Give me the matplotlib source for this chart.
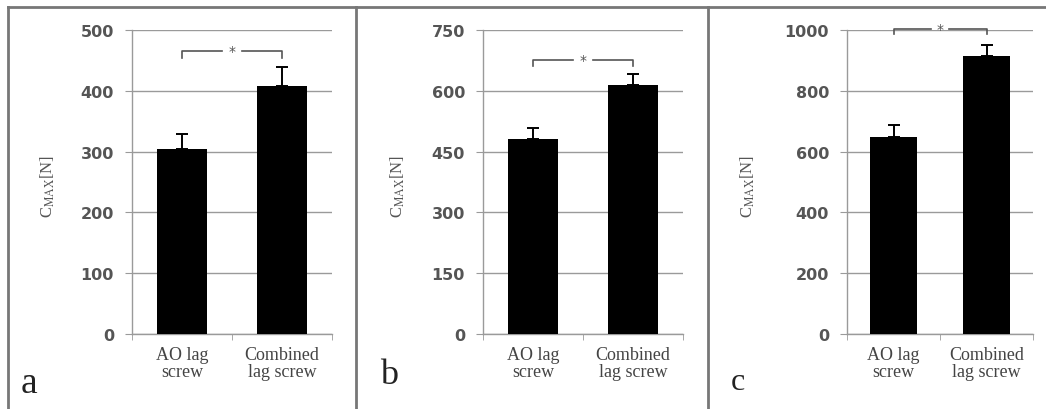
import matplotlib
matplotlib.use("Agg")
import matplotlib.pyplot as plt
from matplotlib.lines import Line2D

plt.rcParams["mathtext.fontset"] = "stix"

groups = ["AO lag\nscrew", "Combined\nlag screw"]
panel_letters = ["a", "b", "c"]

means_a = [305, 408]
err_a = [24, 31]
means_b = [481, 614]
err_b = [27, 27]
means_c = [648, 914]
err_c = [40, 37]

yticks_a = [0, 100, 200, 300, 400, 500]
yticks_b = [0, 150, 300, 450, 600, 750]
yticks_c = [0, 200, 400, 600, 800, 1000]

# bracket level and drop for the significance mark
sig_a = (466, 454)
sig_b = (676, 661)
sig_c = (1003, 987)

W, H = 1046, 410
fig = plt.figure(figsize=(W / 100, H / 100), dpi=100)

grid_col = "#9a9a9a"
tick_col = "#555555"
serif = ["Liberation Serif", "DejaVu Serif"]

# left px, width px, data, letter x, letter baseline, letter size
panels = [
    (132, 200, means_a, err_a, yticks_a, sig_a, 21, 393, 27),
    (483, 200, means_b, err_b, yticks_b, sig_b, 380, 384, 26),
    (847, 186, means_c, err_c, yticks_c, sig_c, 731, 390, 23),
]

for i, (left, width, means, errs, yt, sig, lx, ly, lsize) in enumerate(panels):
    ax = fig.add_axes([left / W, 1 - 335 / H, width / W, 304 / H])
    x = [0, 1]
    ax.bar(x, means, width=0.5, color="black", zorder=3)
    ax.errorbar(x, means, yerr=[[0, 0], errs], fmt="none", ecolor="black",
                elinewidth=1.4, capsize=4, capthick=1.4, zorder=4)
    ax.set_xlim(-0.5, 1.5)
    ax.set_ylim(0, yt[-1])
    ax.set_yticks(yt)
    ax.set_yticklabels([str(v) for v in yt], fontsize=11.5, color=tick_col,
                       fontweight="bold", family="DejaVu Sans")
    ax.yaxis.grid(True, color=grid_col, linewidth=1.0, zorder=0)
    ax.tick_params(axis="y", length=5, color=grid_col, pad=8)
    ax.set_xticks(x)
    ax.set_xticklabels(groups, fontsize=13, color="#444444", family=serif,
                       linespacing=0.95)
    ax.tick_params(axis="x", length=0, pad=9)
    ax.set_xticks([-0.5, 0.5, 1.5], minor=True)
    ax.tick_params(axis="x", which="minor", length=4, color=grid_col)
    for s in ["top", "right"]:
        ax.spines[s].set_visible(False)
    for s in ["left", "bottom"]:
        ax.spines[s].set_color(grid_col)
        ax.spines[s].set_linewidth(1.0)
    ax.set_facecolor("white")
    ax.set_ylabel("C$_{\\mathrm{MAX}}$[N]", fontsize=12, color="#555555",
                  family=serif)
    ax.yaxis.set_label_coords(-(left - (57 + 350 * i)) / width, 0.49)

    # significance bracket
    top, drop = sig
    ax.plot([0.0, 0.0, 0.4], [drop, top, top], color="#555555", lw=1.2,
            clip_on=False, zorder=5)
    ax.plot([0.6, 1.0, 1.0], [top, top, drop], color="#555555", lw=1.2,
            clip_on=False, zorder=5)
    ax.text(0.5, top, "*", ha="center", va="center", fontsize=10,
            color="#555555", zorder=5)

    fig.text(lx / W, 1 - ly / H, panel_letters[i], fontsize=lsize,
             family=serif, color="#222222", ha="left", va="baseline")

# outer frame and separators
frame_col = "#777777"
fig.add_artist(Line2D([8 / W, 1], [1 - 8 / H, 1 - 8 / H], color=frame_col, lw=2,
                      transform=fig.transFigure))
fig.add_artist(Line2D([8 / W, 8 / W], [0, 1 - 8 / H], color=frame_col, lw=2,
                      transform=fig.transFigure))
for sx in [356, 708]:
    fig.add_artist(Line2D([sx / W, sx / W], [0, 1 - 8 / H], color=frame_col,
                          lw=2, transform=fig.transFigure))

fig.savefig("out.png", dpi=100)
